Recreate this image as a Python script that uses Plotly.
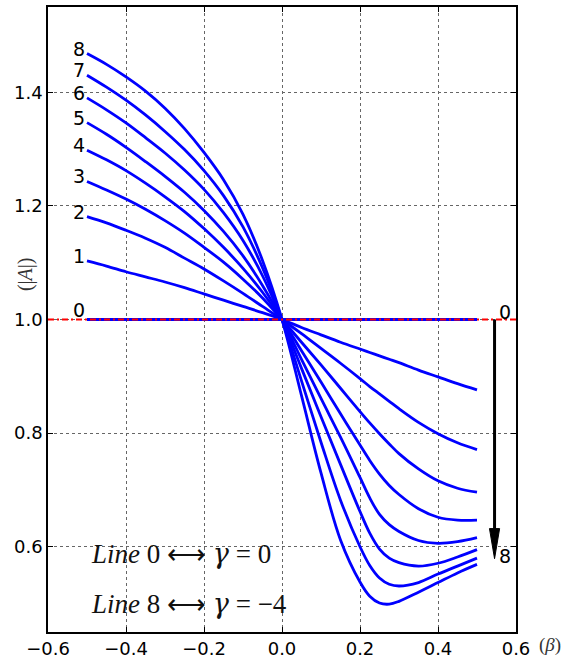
import plotly.graph_objects as go

# ---- data ----
BETA = [-0.5, -0.45, -0.4, -0.35, -0.3, -0.25, -0.2, -0.15, -0.1, -0.05, 0.0,
        0.05, 0.1, 0.15, 0.2, 0.225, 0.25, 0.275, 0.3, 0.35, 0.4, 0.45, 0.5]

A0 = [1.0, 1.0, 1.0, 1.0, 1.0, 1.0, 1.0, 1.0, 1.0, 1.0, 1.0,
      1.0, 1.0, 1.0, 1.0, 1.0, 1.0, 1.0, 1.0, 1.0, 1.0, 1.0, 1.0]
A1 = [1.103, 1.094, 1.084, 1.075, 1.066, 1.056, 1.045, 1.034, 1.023, 1.012, 1.0,
      0.986, 0.973, 0.960, 0.948, 0.942, 0.936, 0.930, 0.924, 0.911, 0.899, 0.887, 0.876]
A2 = [1.181, 1.170, 1.157, 1.143, 1.127, 1.108, 1.089, 1.068, 1.046, 1.023, 1.0,
      0.975, 0.949, 0.923, 0.896, 0.882, 0.869, 0.856, 0.843, 0.819, 0.799, 0.783, 0.771]
A3 = [1.243, 1.228, 1.212, 1.194, 1.174, 1.152, 1.127, 1.101, 1.071, 1.038, 1.0,
      0.960, 0.920, 0.879, 0.838, 0.818, 0.799, 0.781, 0.764, 0.737, 0.716, 0.703, 0.696]
A4 = [1.298, 1.281, 1.262, 1.240, 1.216, 1.190, 1.160, 1.127, 1.090, 1.048, 1.0,
      0.945, 0.890, 0.834, 0.779, 0.752, 0.728, 0.708, 0.692, 0.667, 0.652, 0.647, 0.647]
A5 = [1.3465, 1.326, 1.303, 1.278, 1.252, 1.224, 1.192, 1.155, 1.112, 1.060, 1.0,
      0.930, 0.861, 0.793, 0.722, 0.686, 0.657, 0.639, 0.627, 0.611, 0.606, 0.609, 0.616]
A6 = [1.390, 1.369, 1.346, 1.320, 1.293, 1.263, 1.229, 1.188, 1.139, 1.077, 1.0,
      0.914, 0.829, 0.745, 0.662, 0.624, 0.596, 0.580, 0.572, 0.566, 0.571, 0.582, 0.595]
A7 = [1.430, 1.409, 1.386, 1.360, 1.331, 1.299, 1.262, 1.218, 1.163, 1.091, 1.0,
      0.892, 0.784, 0.682, 0.600, 0.567, 0.545, 0.534, 0.531, 0.537, 0.552, 0.566, 0.580]
A8 = [1.468, 1.449, 1.427, 1.402, 1.372, 1.336, 1.294, 1.246, 1.185, 1.104, 1.0,
      0.866, 0.730, 0.612, 0.538, 0.513, 0.501, 0.499, 0.504, 0.520, 0.537, 0.554, 0.569]

CURVES = [A0, A1, A2, A3, A4, A5, A6, A7, A8]
CURVE_LABELS = ["0", "1", "2", "3", "4", "5", "6", "7", "8"]

X_TICKS = [-0.6, -0.4, -0.2, 0.0, 0.2, 0.4, 0.6]
Y_TICKS = [0.6, 0.8, 1.0, 1.2, 1.4]
X_RANGE = [-0.6, 0.6]
Y_RANGE = [0.45, 1.55]

REF_LEVEL = 1.0          # red dash-dot reference line
ARROW_X = 0.545
ARROW_TOP = 1.0
ARROW_TIP = 0.579
HEAD_HALF_W = 0.013
HEAD_LEN = 0.053

G = '<span style="font-family:DejaVu Serif"><i>γ</i></span>'
TEXT_LINES = [f"<i>Line</i> 0 ⟷ {G} = 0", f"<i>Line</i> 8 ⟷ {G} = −4"]
TEXT_X = -0.495
TEXT_Y = [0.5875, 0.501]

SANS = "DejaVu Sans"
SERIF = "Liberation Serif"

fig = go.Figure()
for ys in CURVES:
    fig.add_trace(go.Scatter(x=BETA, y=ys, mode="lines",
                             line=dict(color="#0000ff", width=2.8, shape="spline", smoothing=1.0),
                             hoverinfo="skip"))

# red dash-dot line across the whole axis
fig.add_shape(type="line", xref="x domain", yref="y", x0=0, x1=1, y0=REF_LEVEL, y1=REF_LEVEL,
              line=dict(color="#ff0000", width=2, dash="6px,3px,2px,3px"), layer="above")

# arrow
fig.add_shape(type="line", xref="x", yref="y", x0=ARROW_X, x1=ARROW_X,
              y0=ARROW_TOP, y1=ARROW_TIP + HEAD_LEN * 0.8,
              line=dict(color="black", width=3), layer="above")
fig.add_shape(type="path", xref="x", yref="y",
              path=(f"M {ARROW_X - HEAD_HALF_W},{ARROW_TIP + HEAD_LEN} "
                    f"L {ARROW_X + HEAD_HALF_W},{ARROW_TIP + HEAD_LEN} "
                    f"L {ARROW_X},{ARROW_TIP} Z"),
              fillcolor="black", line=dict(color="black", width=1), layer="above")

annotations = []
for lab, ys in zip(CURVE_LABELS, CURVES):
    annotations.append(dict(x=BETA[0], y=ys[0], text=lab, showarrow=False,
                            xanchor="right", yanchor="middle", xshift=0,
                            yshift=10 if lab == "0" else 5,
                            font=dict(family=SANS, size=19, color="black")))
annotations.append(dict(x=ARROW_X, y=ARROW_TOP, text="0", showarrow=False,
                        xanchor="left", yanchor="middle", xshift=2, yshift=8,
                        font=dict(family=SANS, size=19, color="black")))
annotations.append(dict(x=ARROW_X, y=ARROW_TIP, text="8", showarrow=False,
                        xanchor="left", yanchor="middle", xshift=2, yshift=3,
                        font=dict(family=SANS, size=19, color="black")))
for t, yy in zip(TEXT_LINES, TEXT_Y):
    annotations.append(dict(x=TEXT_X, y=yy, text=t, showarrow=False,
                            xanchor="left", yanchor="middle",
                            font=dict(family=SERIF, size=27, color="#111")))
# axis labels
annotations.append(dict(xref="paper", yref="y", x=-0.049, y=1.08, text="(|<i>A</i>|)",
                        showarrow=False, textangle=-90, xanchor="center", yanchor="middle",
                        font=dict(family=SERIF, size=20, color="#333")))
annotations.append(dict(xref="paper", yref="paper", x=1.072, y=-0.02, text="(<i>β</i>)",
                        showarrow=False, xanchor="center", yanchor="middle",
                        font=dict(family=SERIF, size=19, color="#333")))

axis_common = dict(tickformat=".1f",
                   showgrid=True, gridcolor="#666", griddash="dot", gridwidth=1,
                   showline=True, linecolor="black", linewidth=1.5, mirror="ticks",
                   ticks="inside", ticklen=5, tickcolor="black", tickwidth=1,
                   zeroline=False, tickfont=dict(family=SANS, size=18, color="black"))

fig.update_layout(
    width=566, height=662,
    margin=dict(l=48, r=50, t=7, b=30, autoexpand=False),
    plot_bgcolor="white", paper_bgcolor="white",
    showlegend=False,
    annotations=annotations,
    xaxis=dict(range=X_RANGE, tickvals=X_TICKS, **axis_common),
    yaxis=dict(range=Y_RANGE, tickvals=Y_TICKS, **axis_common),
)

fig.write_html("out.html", config={"displayModeBar": False},
               post_script="document.body.style.margin='0px';document.body.style.overflow='hidden';")
